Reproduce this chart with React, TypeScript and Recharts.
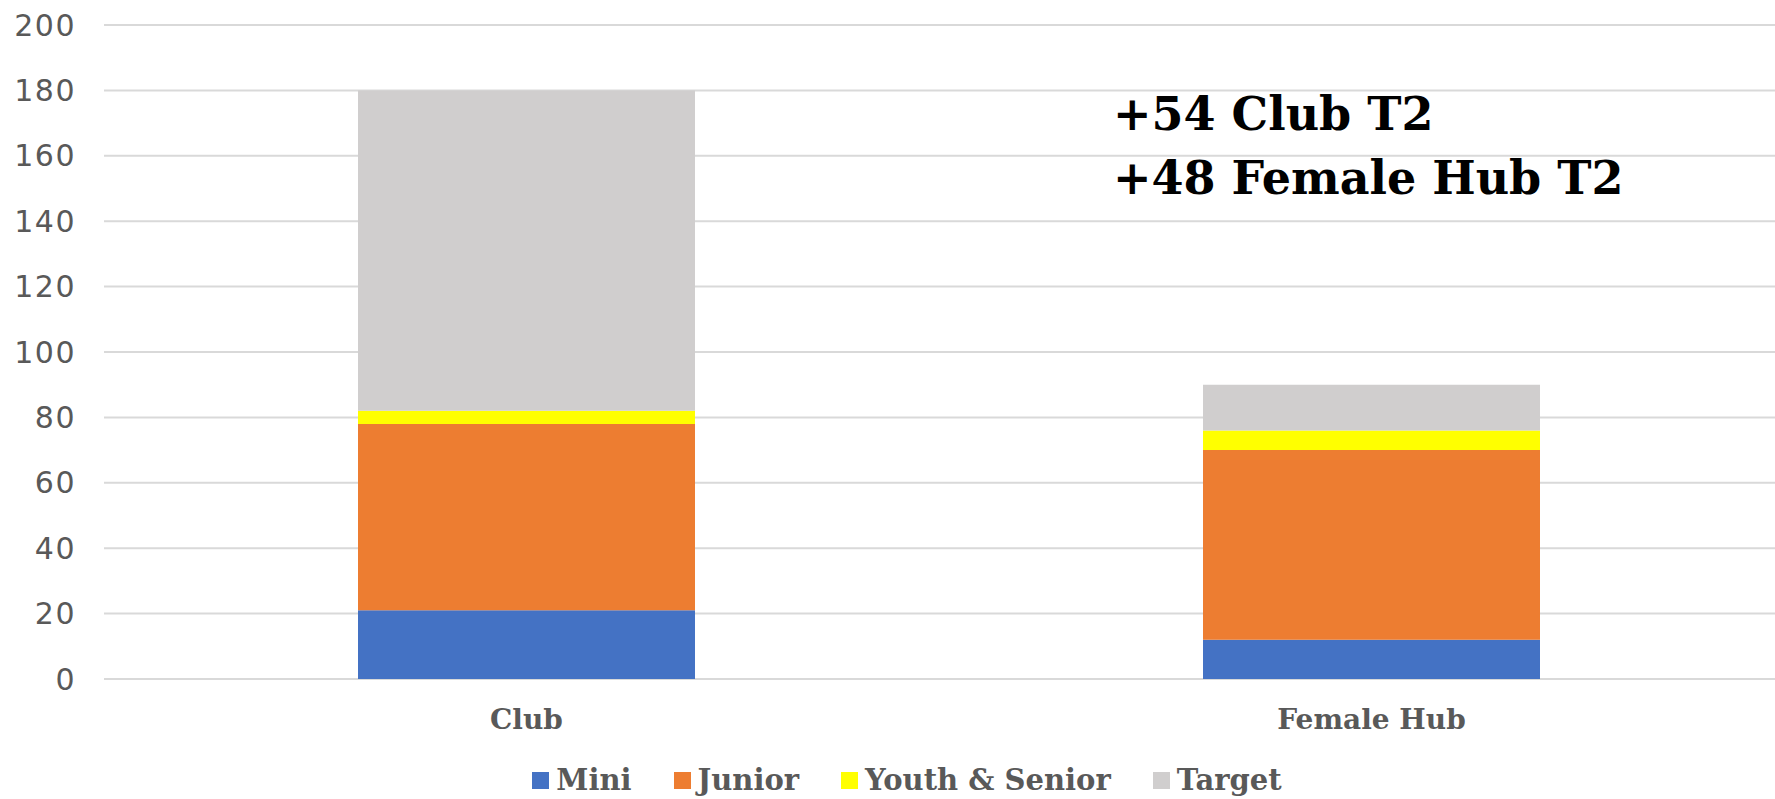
import { Bar, BarChart, CartesianGrid, Legend, XAxis, YAxis } from "recharts";

// categories and stacked values
const categories = ["Club", "Female Hub"];
const mini = [21, 12];
const junior = [57, 58];
const youthSenior = [4, 6];
const target = [98, 14];
const yTicks = [0, 20, 40, 60, 80, 100, 120, 140, 160, 180, 200];
const notes = ["+54 Club T2", "+48 Female Hub T2"];

const series = [
  { key: "Mini", values: mini, color: "#4472C4" },
  { key: "Junior", values: junior, color: "#ED7D31" },
  { key: "Youth & Senior", values: youthSenior, color: "#FFFF00" },
  { key: "Target", values: target, color: "#D0CECE" },
];

const data = categories.map((name, i) => {
  const row: Record<string, string | number> = { name };
  series.forEach((s) => (row[s.key] = s.values[i]));
  return row;
});

const slab = "'DejaVu Serif', 'Liberation Serif', serif";

// legend keeps the series order (recharts would sort it otherwise)
function LegendRow() {
  return (
    <div style={{ display: "flex", justifyContent: "center", alignItems: "center", gap: 42, paddingTop: 24, marginLeft: 20 }}>
      {series.map((s) => (
        <div key={s.key} style={{ display: "flex", alignItems: "center", gap: 7 }}>
          <span style={{ width: 17, height: 17, background: s.color, display: "inline-block" }} />
          <span style={{ fontFamily: slab, fontWeight: 700, fontSize: 29, color: "#595959" }}>{s.key}</span>
        </div>
      ))}
    </div>
  );
}

export default function App() {
  return (
    <div style={{ position: "fixed", left: 0, top: 0, width: 1775, height: 799, overflow: "hidden", background: "#fff" }}>
      <BarChart width={1800} height={799} data={data} margin={{ top: 25, right: 6, left: 0, bottom: 0 }} barSize={337}>
        <CartesianGrid vertical={false} stroke="#D9D9D9" strokeWidth={2} />
        <XAxis
          dataKey="name"
          axisLine={false}
          tickLine={false}
          tickSize={0}
          tickMargin={30}
          height={60}
          tick={{ fill: "#595959", fontSize: 28, fontFamily: slab, fontWeight: 700 }}
        />
        <YAxis
          domain={[0, 200]}
          ticks={yTicks}
          axisLine={false}
          tickLine={false}
          tickSize={0}
          tickMargin={28}
          width={104}
          tick={{ fill: "#595959", fontSize: 30, fontFamily: "'DejaVu Sans', sans-serif", letterSpacing: 1.5 }}
        />
        <Legend verticalAlign="bottom" height={60} content={<LegendRow />} />
        {series.map((s) => (
          <Bar key={s.key} dataKey={s.key} stackId="a" fill={s.color} isAnimationActive={false} />
        ))}
      </BarChart>
      <div
        style={{
          position: "absolute",
          left: 1113,
          top: 82,
          fontFamily: slab,
          fontWeight: 700,
          fontSize: 46,
          lineHeight: "64px",
          color: "#000",
        }}
      >
        {notes.map((n) => (
          <div key={n}>{n}</div>
        ))}
      </div>
    </div>
  );
}
